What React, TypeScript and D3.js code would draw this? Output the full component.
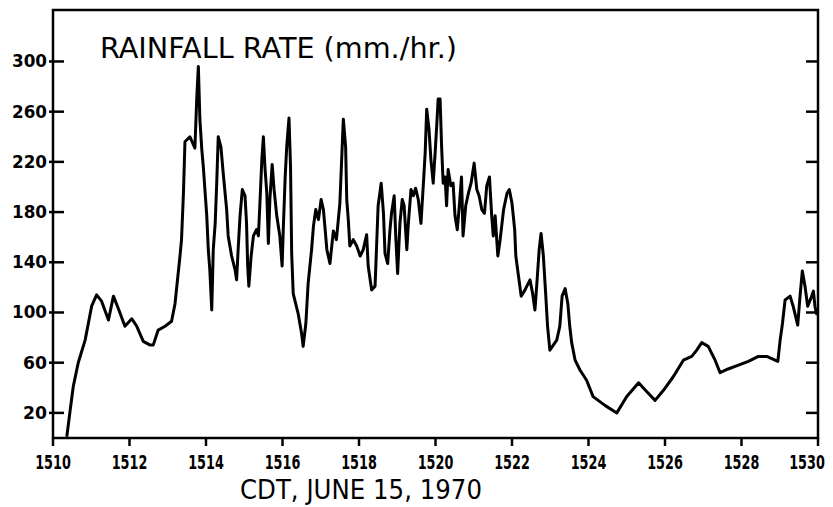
import React from 'react';
import * as d3 from 'd3';

// minutes after 15:00 (CDT) and rainfall rate in mm/hr
const minutes = [
  10.36, 10.44, 10.53, 10.66, 10.84, 11.01, 11.14, 11.27, 11.45, 11.58, 11.71, 11.88,
  12.06, 12.19, 12.36, 12.54, 12.62, 12.75, 12.93, 13.1, 13.19, 13.32, 13.36, 13.41,
  13.45, 13.58, 13.71, 13.76, 13.8, 13.84, 13.89, 13.93, 14.02, 14.06, 14.1, 14.15,
  14.19, 14.24, 14.28, 14.32, 14.39, 14.45, 14.54, 14.58, 14.67, 14.76, 14.8, 14.84,
  14.89, 14.95, 15.02, 15.06, 15.09, 15.12, 15.18, 15.24, 15.32, 15.37, 15.41, 15.46,
  15.5, 15.54, 15.59, 15.63, 15.67, 15.73, 15.78, 15.85, 15.93, 15.99, 16.02, 16.07,
  16.11, 16.17, 16.21, 16.24, 16.28, 16.41, 16.5, 16.54, 16.61, 16.67, 16.76, 16.81,
  16.87, 16.94, 17.01, 17.07, 17.16, 17.24, 17.33, 17.41, 17.5, 17.59, 17.65, 17.68,
  17.72, 17.76, 17.85, 17.94, 18.03, 18.11, 18.2, 18.24, 18.33, 18.42, 18.46, 18.5,
  18.58, 18.64, 18.68, 18.75, 18.81, 18.85, 18.92, 18.96, 19.01, 19.07, 19.13, 19.18,
  19.25, 19.29, 19.36, 19.42, 19.48, 19.55, 19.62, 19.68, 19.73, 19.77, 19.83, 19.88,
  19.94, 19.99, 20.03, 20.07, 20.12, 20.16, 20.2, 20.25, 20.29, 20.33, 20.4, 20.46,
  20.51, 20.57, 20.62, 20.68, 20.72, 20.79, 20.86, 20.93, 21.01, 21.08, 21.14, 21.21,
  21.28, 21.34, 21.41, 21.47, 21.51, 21.56, 21.63, 21.69, 21.78, 21.87, 21.93, 22.0,
  22.07, 22.1, 22.17, 22.24, 22.34, 22.47, 22.54, 22.6, 22.65, 22.71, 22.76, 22.82,
  22.88, 22.93, 22.99, 23.08, 23.17, 23.25, 23.31, 23.39, 23.46, 23.51, 23.56, 23.65,
  23.78, 23.95, 24.12, 24.43, 24.74, 25.0, 25.31, 25.52, 25.74, 25.96, 26.22, 26.48,
  26.7, 26.83, 26.96, 27.13, 27.31, 27.44, 27.65, 27.92, 28.18, 28.44, 28.66, 28.95,
  29.01, 29.07, 29.14, 29.27, 29.35, 29.47, 29.53, 29.59, 29.66, 29.73, 29.81, 29.88,
  29.92, 29.96, 30.0,
];

const rainRate = [
  1, 20, 41, 60, 78, 105, 114, 109, 94, 113, 103, 89,
  95, 89, 77, 74, 74, 86, 89, 93, 107, 145, 158, 195,
  236, 240, 231, 272, 296, 254, 230, 216, 177, 150, 134, 102,
  150, 171, 203, 240, 232, 211, 182, 161, 145, 134, 126, 150,
  177, 198, 193, 171, 137, 121, 145, 161, 166, 161, 187, 222,
  240, 216, 195, 155, 190, 218, 198, 177, 161, 137, 166, 208,
  232, 255, 216, 147, 115, 99, 83, 73, 91, 123, 150, 169,
  182, 174, 190, 182, 150, 139, 165, 158, 187, 254, 232, 190,
  174, 153, 158, 153, 145, 150, 162, 137, 118, 121, 153, 185,
  203, 179, 147, 139, 166, 179, 193, 161, 131, 171, 190, 185,
  150, 171, 198, 193, 199, 190, 171, 201, 227, 262, 246, 222,
  203, 227, 248, 270, 270, 232, 203, 208, 185, 214, 201, 203,
  177, 166, 184, 208, 161, 185, 195, 203, 219, 198, 193, 182,
  179, 201, 208, 177, 161, 177, 145, 158, 182, 195, 198, 187,
  166, 145, 129, 113, 118, 126, 115, 102, 123, 150, 163, 145,
  115, 89, 70, 74, 78, 89, 113, 119, 107, 89, 76, 62,
  54, 46, 33, 26, 20, 33, 44, 37, 30, 38, 49, 62,
  65, 70, 76, 73, 62, 52, 55, 58, 61, 65, 65, 61,
  78, 91, 110, 113, 105, 90, 113, 133, 121, 105, 111, 117,
  105, 99, 99,
];

const xTickMinutes = [10, 12, 14, 16, 18, 20, 22, 24, 26, 28, 30];
const xTickLabels = ['1510', '1512', '1514', '1516', '1518', '1520', '1522', '1524', '1526', '1528', '1530'];
const yTicks = [20, 60, 100, 140, 180, 220, 260, 300];

const title = 'RAINFALL RATE (mm./hr.)';
const xTitle = 'CDT, JUNE 15, 1970';

const W = 833;
const H = 507;
const left = 53;
const right = 818;
const top = 10;
const bottom = 438;

export default function App() {
  const x = d3.scaleLinear().domain([10, 30]).range([left, right]);
  const y = d3.scaleLinear().domain([0, 341]).range([bottom, top]);

  const pts: [number, number][] = minutes.map((m, i) => [m, rainRate[i]]);
  const line = d3
    .line<[number, number]>()
    .x((d) => x(d[0]))
    .y((d) => y(d[1]))
    .curve(d3.curveLinear);

  const font = '"DejaVu Sans", sans-serif';
  const last = xTickMinutes.length - 1;

  return (
    <svg
      width={W}
      height={H}
      style={{ position: 'absolute', left: 0, top: 0, background: '#fff' }}
    >
      {/* frame */}
      <rect
        x={left}
        y={top}
        width={right - left}
        height={bottom - top}
        fill="none"
        stroke="#000"
        strokeWidth={2.5}
      />

      {/* y ticks, both sides */}
      {yTicks.map((v) => (
        <g key={v}>
          <line x1={left - 4} x2={left + 11} y1={y(v)} y2={y(v)} stroke="#000" strokeWidth={2.5} />
          <line x1={right - 12} x2={right} y1={y(v)} y2={y(v)} stroke="#000" strokeWidth={2.5} />
          <text
            x={47}
            y={y(v) + 6}
            textAnchor="end"
            fontFamily={font}
            fontSize={17}
            fontWeight="bold"
            textLength={v >= 100 ? 35 : 24}
            lengthAdjust="spacingAndGlyphs"
          >
            {v}
          </text>
        </g>
      ))}

      {/* x ticks; labels squeezed horizontally, last one a little left of its tick as in the original */}
      {xTickMinutes.map((m, i) => (
        <g key={m}>
          <line x1={x(m)} x2={x(m)} y1={bottom} y2={bottom + 8} stroke="#000" strokeWidth={2.5} />
          <text
            transform={`translate(${i === last ? x(m) - 11 : x(m)},469) scale(0.64,1)`}
            textAnchor="middle"
            fontFamily={font}
            fontSize={20}
            fontWeight="bold"
          >
            {xTickLabels[i]}
          </text>
        </g>
      ))}

      {/* rainfall trace */}
      <path d={line(pts) || ''} fill="none" stroke="#000" strokeWidth={3} strokeLinejoin="round" />

      <text
        x={100}
        y={58}
        fontFamily={font}
        fontSize={29}
        textLength={357}
        lengthAdjust="spacingAndGlyphs"
      >
        {title}
      </text>

      <text
        x={240}
        y={499}
        fontFamily={font}
        fontSize={26}
        textLength={242}
        lengthAdjust="spacingAndGlyphs"
      >
        {xTitle}
      </text>
    </svg>
  );
}
